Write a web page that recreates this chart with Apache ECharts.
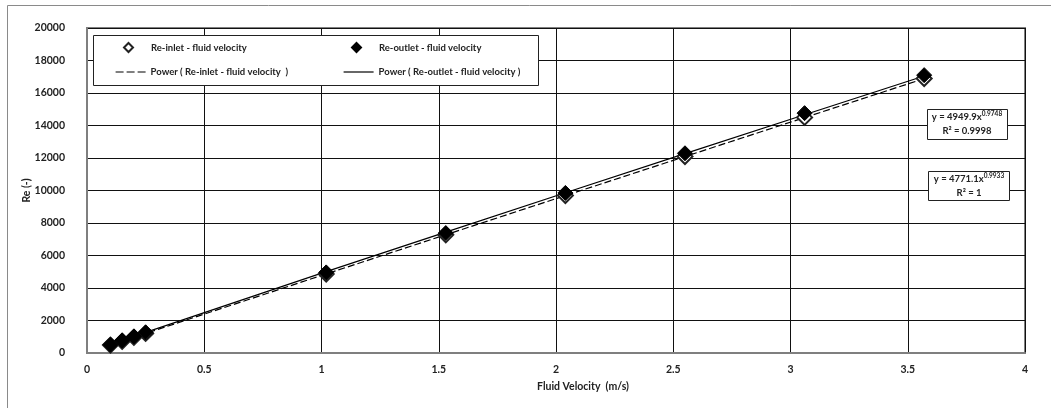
<!DOCTYPE html>
<html>
<head>
<meta charset="utf-8">
<script src="https://cdn.jsdelivr.net/npm/echarts@6/dist/echarts.min.js"></script>
<style>
html,body{margin:0;padding:0;background:#fff;}
#c{width:1051px;height:408px;}
</style>
</head>
<body>
<div id="c"></div>
<script>
// ---- data ----
var velocity = [0.10, 0.15, 0.20, 0.25, 1.02, 1.53, 2.04, 2.55, 3.06, 3.57];
var reInlet  = [485, 725, 965, 1205, 4860, 7270, 9690, 12090, 14500, 16890];
var reOutlet = [515, 770, 1020, 1270, 4960, 7380, 9850, 12290, 14760, 17100];
var xTicks = [0, 0.5, 1, 1.5, 2, 2.5, 3, 3.5, 4];
var yTicks = [0, 2000, 4000, 6000, 8000, 10000, 12000, 14000, 16000, 18000, 20000];
var eqInlet  = {a: '4771.1', b: '0.9933', r2: '1'};
var eqOutlet = {a: '4949.9', b: '0.9748', r2: '0.9998'};
var names = ['Re-inlet - fluid velocity', 'Re-outlet - fluid velocity',
             'Power ( Re-inlet - fluid velocity  )', 'Power ( Re-outlet - fluid velocity )'];

// power trendline (least squares in log space), evaluated at the data x values
function powerFit(xs, ys) {
  var n = xs.length, sx = 0, sy = 0, sxx = 0, sxy = 0;
  for (var i = 0; i < n; i++) {
    var lx = Math.log(xs[i]), ly = Math.log(ys[i]);
    sx += lx; sy += ly; sxx += lx * lx; sxy += lx * ly;
  }
  var b = (n * sxy - sx * sy) / (n * sxx - sx * sx);
  var a = Math.exp((sy - b * sx) / n);
  return xs.map(function (x) { return [x, a * Math.pow(x, b)]; });
}
function pairs(xs, ys) { return xs.map(function (x, i) { return [x, ys[i]]; }); }

var FONT = '"Lato", sans-serif';
var TXT = '#222';
var chart = echarts.init(document.getElementById('c'), null, {renderer: 'canvas'});

function legendAt(name, left, top, w, h, pad, lineType) {
  var lg = {
    data: [name], left: left, top: top, itemWidth: w, itemHeight: h, itemGap: 0,
    padding: 0, selectedMode: false, z: 20,
    textStyle: {fontFamily: FONT, fontWeight: 'bold', fontSize: 9.5, color: TXT,
      rich: {pad: {width: pad}}},
    formatter: pad ? '{pad|}{name}' : '{name}'
  };
  if (lineType) { lg.itemStyle = {opacity: 0}; lg.lineStyle = {opacity: 1, type: lineType, width: 1.2}; }
  return lg;
}

chart.setOption({
  backgroundColor: '#fff',
  animation: false,
  grid: {left: 87, right: 26, top: 28, bottom: 55, show: true, borderColor: '#7f7f7f', borderWidth: 2, containLabel: false},
  xAxis: {
    type: 'value', min: 0, max: 4, interval: 0.5,
    name: 'Fluid Velocity  (m/s)', nameLocation: 'middle', nameGap: 28, nameMoveOverlap: false,
    nameTextStyle: {fontFamily: FONT, fontWeight: 'bold', fontSize: 10.5, color: TXT, padding: [0, 0, 0, 54]},
    axisLine: {lineStyle: {color: '#7f7f7f', width: 2}},
    axisTick: {show: false},
    axisLabel: {margin: 11, fontFamily: FONT, fontWeight: 'bold', fontSize: 10.5, color: TXT,
      formatter: function (v) { return xTicks.indexOf(v) >= 0 ? String(v) : ''; }},
    splitLine: {show: true, lineStyle: {color: '#111', width: 1}}
  },
  yAxis: {
    type: 'value', min: 0, max: 20000, interval: 2000,
    name: 'Re (-)', nameLocation: 'middle', nameGap: 55, nameMoveOverlap: false,
    nameTextStyle: {fontFamily: FONT, fontWeight: 'bold', fontSize: 10.5, color: TXT},
    axisLine: {show: true, lineStyle: {color: '#7f7f7f', width: 2}},
    axisTick: {show: false},
    axisLabel: {margin: 22, fontFamily: FONT, fontWeight: 'bold', fontSize: 10.5, color: TXT,
      formatter: function (v) { return yTicks.indexOf(v) >= 0 ? String(v) : ''; }},
    splitLine: {show: true, lineStyle: {color: '#111', width: 1}}
  },
  legend: [
    legendAt(names[0], 123, 42, 9, 9, 13, null),
    legendAt(names[1], 351, 42, 9, 9, 13, null),
    legendAt(names[2], 115, 67, 30, 9, 0, [8, 3]),
    legendAt(names[3], 343, 67, 30, 9, 0, 'solid')
  ],
  series: [
    {name: names[3], type: 'line', data: powerFit(velocity, reOutlet), showSymbol: false, symbol: 'none',
     lineStyle: {color: '#000', width: 1.2}, itemStyle: {color: '#000'}, z: 3, silent: true},
    {name: names[2], type: 'line', data: powerFit(velocity, reInlet), showSymbol: false, symbol: 'none',
     lineStyle: {color: '#000', width: 1.2, type: [7, 3]}, itemStyle: {color: '#000'}, z: 3, silent: true},
    {name: names[0], type: 'scatter', data: pairs(velocity, reInlet), symbol: 'diamond', symbolSize: 15,
     itemStyle: {color: '#fff', borderColor: '#222', borderWidth: 2, opacity: 1}, z: 4},
    {name: names[1], type: 'scatter', data: pairs(velocity, reOutlet), symbol: 'diamond', symbolSize: 15,
     itemStyle: {color: '#000', borderColor: '#000', borderWidth: 1, opacity: 1}, z: 5}
  ],
  graphic: [
    {type: 'rect', shape: {x: 7.5, y: 5.5, width: 1200, height: 600}, style: {fill: 'none', stroke: '#8a8a8a', lineWidth: 1}, z: 1, silent: true},
    {type: 'rect', shape: {x: 93.5, y: 35.5, width: 445, height: 50}, style: {fill: '#fff', stroke: '#222', lineWidth: 1}, z: 10, silent: true},
    {type: 'rect', shape: {x: 927.5, y: 109.5, width: 80, height: 30}, style: {fill: '#fff', stroke: '#222', lineWidth: 1}, z: 10, silent: true},
    {type: 'text', x: 967, y: 124, z: 11, silent: true, style: {
      text: '{a|y = ' + eqOutlet.a + 'x}{s|' + eqOutlet.b + '}\n{a|R² = ' + eqOutlet.r2 + '}',
      align: 'center', verticalAlign: 'middle', fontFamily: FONT,
      rich: {a: {fontSize: 9.5, fontWeight: 'bold', fill: TXT, lineHeight: 14, fontFamily: FONT},
             s: {fontSize: 6.5, fontWeight: 'bold', fill: TXT, padding: [0, 0, 6, 0], fontFamily: FONT}}}},
    {type: 'rect', shape: {x: 928.5, y: 171.5, width: 81, height: 29}, style: {fill: '#fff', stroke: '#222', lineWidth: 1}, z: 10, silent: true},
    {type: 'text', x: 969, y: 186, z: 11, silent: true, style: {
      text: '{a|y = ' + eqInlet.a + 'x}{s|' + eqInlet.b + '}\n{a|R² = ' + eqInlet.r2 + '}',
      align: 'center', verticalAlign: 'middle', fontFamily: FONT,
      rich: {a: {fontSize: 9.5, fontWeight: 'bold', fill: TXT, lineHeight: 14, fontFamily: FONT},
             s: {fontSize: 6.5, fontWeight: 'bold', fill: TXT, padding: [0, 0, 6, 0], fontFamily: FONT}}}}
  ]
});
</script>
</body>
</html>
